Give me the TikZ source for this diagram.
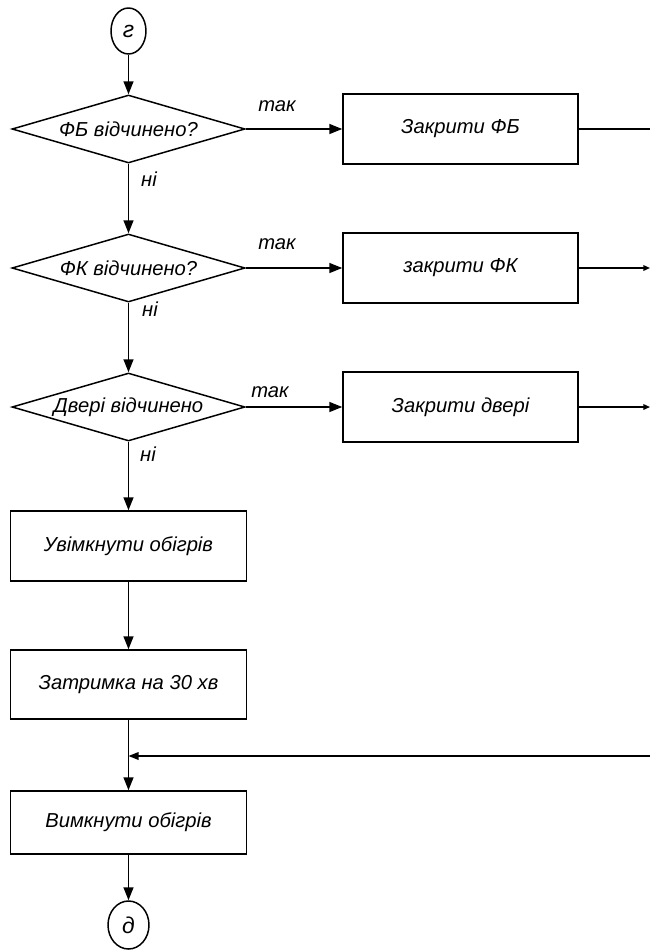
\documentclass[tikz,border=0pt]{standalone}
\usepackage{fontspec}
\setmainfont{Liberation Sans}
\usetikzlibrary{shapes.geometric,arrows.meta}
\begin{document}
\begin{tikzpicture}[x=0.02cm,y=-0.02cm,
  every node/.style={font=\fontsize{11.5}{13}\selectfont\itshape},
  line/.style={line width=0.85pt},
  arr/.style={line, -{Triangle[length=7.3pt,width=5.6pt]}},
  arrs/.style={line, -{Triangle[length=3.8pt,width=3.2pt]}},
  arrm/.style={line, -{Triangle[length=5.8pt,width=4.4pt]}},
  conn/.style={draw, line, ellipse, inner sep=0pt, minimum width=0.7cm, minimum height=0.92cm, font=\fontsize{13}{14}\selectfont\itshape},
  connb/.style={draw, line, ellipse, inner sep=0pt, minimum width=0.82cm, minimum height=0.96cm, font=\fontsize{13}{14}\selectfont\itshape},
  dec/.style={draw, line, diamond, shape aspect=3.43, inner sep=0pt, minimum width=4.66cm, minimum height=1.36cm},
  proc/.style={draw, line, rectangle, inner sep=0pt, minimum width=4.72cm, minimum height=1.4cm},
  lab/.style={inner sep=0pt}
]
\useasboundingbox (0,0) rectangle (650,950);

\node[conn] (g) at (128.5,31) {г};

\node[dec] (d1) at (128.5,129) {ФБ відчинено?};
\node[proc, minimum width=4.7cm] (b1) at (460.5,129) {Закрити ФБ};
\node[dec] (d2) at (128.5,268) {ФК відчинено?};
\node[proc, minimum width=4.7cm] (b2) at (460.5,268) {закрити ФК};
\node[dec] (d3) at (128.5,407) {Двері відчинено};
\node[proc, minimum width=4.7cm] (b3) at (460.5,407) {Закрити двері};

\node[proc] (u1) at (128.5,546) {Увімкнути обігрів};
\node[proc, minimum height=1.38cm] (z1) at (128.5,684.5) {Затримка на 30 хв};
\node[proc, minimum height=1.26cm] (v1) at (128.5,822.5) {Вимкнути обігрів};
\node[connb] (dd) at (128.5,925) {д};

\node[lab] (t1) at (277,106) {так};
\node[lab] (t2) at (277,244) {так};
\node[lab] (t3) at (270,392) {так};
\node[lab] (n1) at (149,179) {ні};
\node[lab] (n2) at (150,309) {ні};
\node[lab] (n3) at (148,454) {ні};

\coordinate (e1) at (650,129);
\coordinate (e2) at (650,268);
\coordinate (e3) at (650,407);
\coordinate (fb) at (650,756);
\coordinate (j) at (128.5,756);

\draw[arr] (g) -- (d1);
\draw[arr] (d1.east) -- (b1.west);
\draw[arr] (d1.south) -- (d2.north);
\draw[arr] (d2.east) -- (b2.west);
\draw[arr] (d2.south) -- (d3.north);
\draw[arr] (d3.east) -- (b3.west);
\draw[arr] (d3.south) -- (u1.north);
\draw[line] (b1.east) -- (e1);
\draw[arrs] (b2.east) -- (e2);
\draw[arrs] (b3.east) -- (e3);
\draw[arr] (u1) -- (z1);
\draw[arr] (z1) -- (v1);
\draw[arrm] (fb) -- (j);
\draw[arr] (v1) -- (dd);
\end{tikzpicture}
\end{document}
